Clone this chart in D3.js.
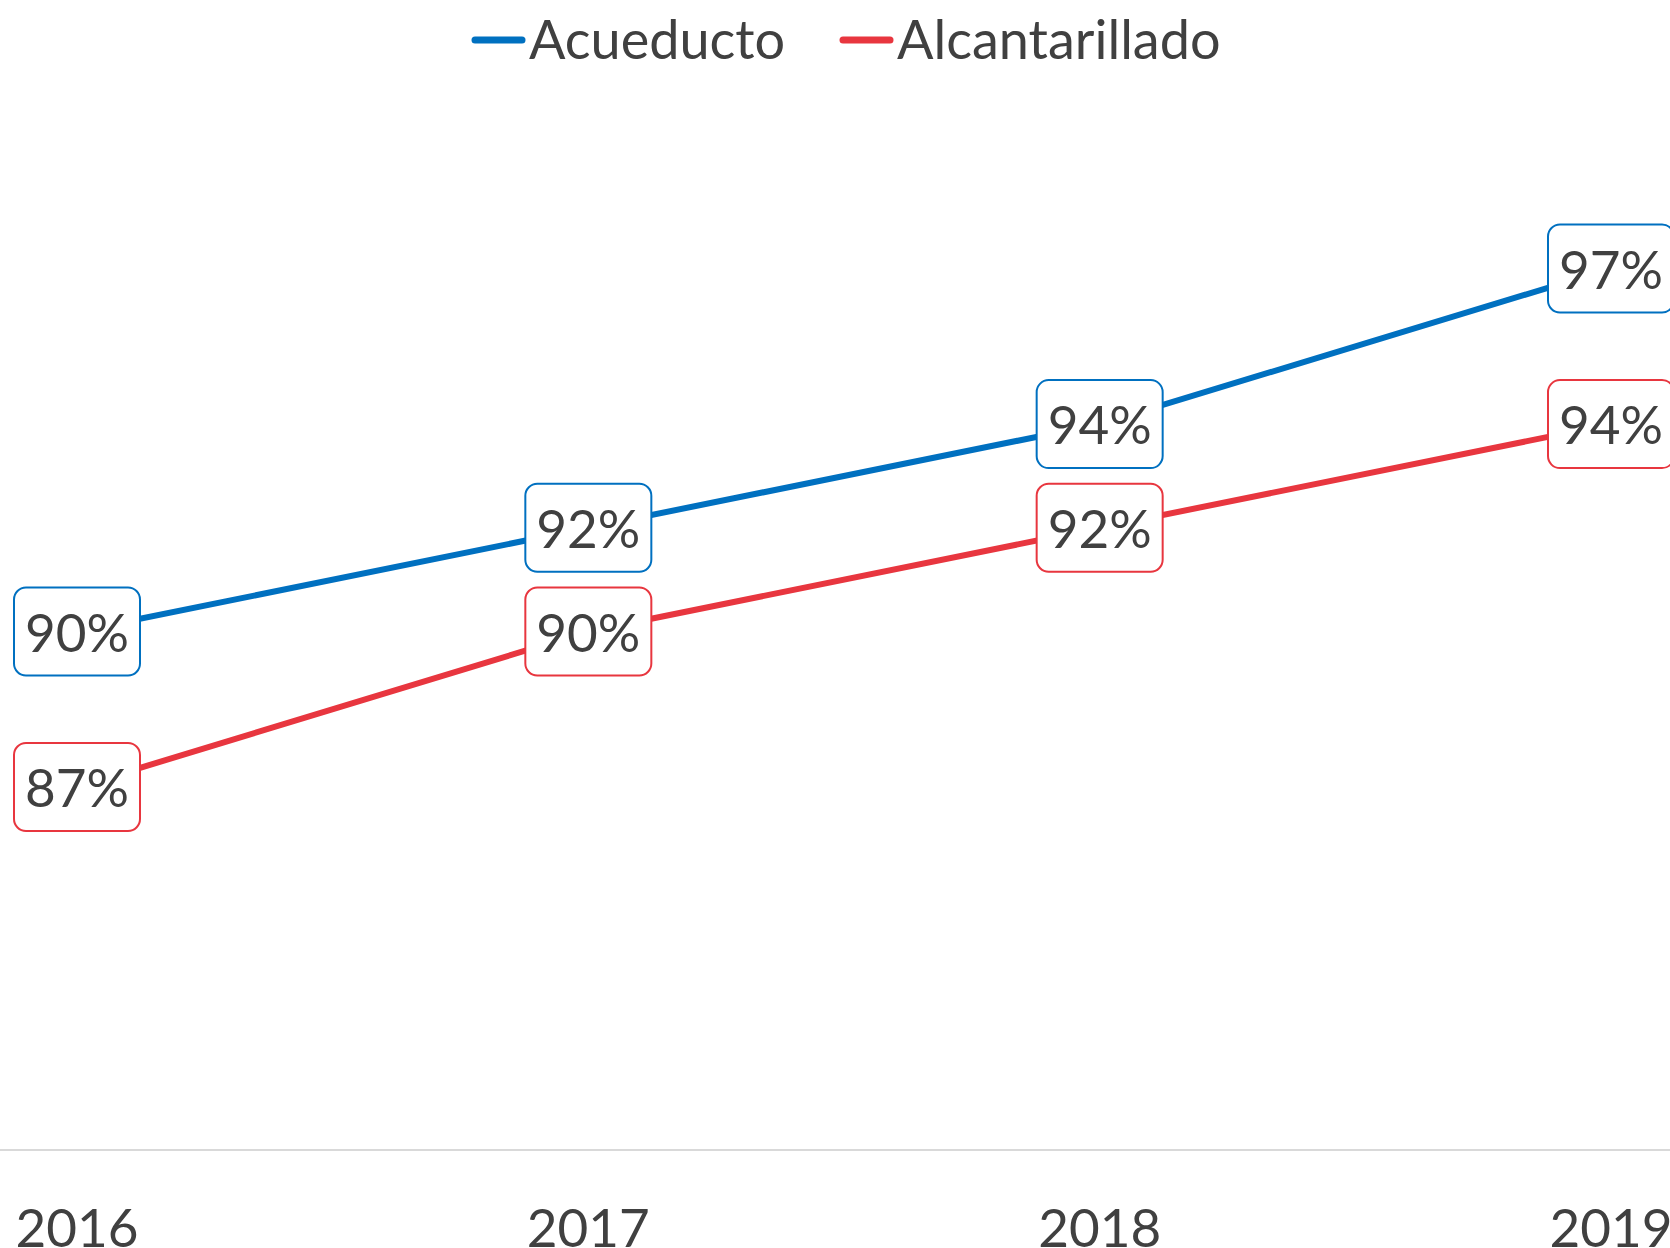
<!DOCTYPE html>
<html>
<head>
<meta charset="utf-8">
<script src="https://cdn.jsdelivr.net/npm/d3@7"></script>
<style>
  body { margin: 0; background: #fff; }
  svg { display: block; }
  text { font-family: Lato, "Open Sans", sans-serif; fill: #404040; }
</style>
</head>
<body>
<div id="chart"></div>
<script>
var years = ["2016", "2017", "2018", "2019"];
var acueducto = [90, 92, 94, 97];
var alcantarillado = [87, 90, 92, 94];
var seriesNames = ["Acueducto", "Alcantarillado"];
var seriesColors = ["#0070C0", "#E8363F"];

var width = 1670, height = 1248;

var xScale = d3.scalePoint()
    .domain(years)
    .range([77, 1611]);

var yScale = d3.scaleLinear()
    .domain([80, 100])
    .range([1150, 113]);

var svg = d3.select("#chart").append("svg")
    .attr("width", width)
    .attr("height", height);

// category axis line
svg.append("line")
    .attr("x1", 0).attr("x2", width)
    .attr("y1", yScale(80)).attr("y2", yScale(80))
    .attr("stroke", "#D9D9D9")
    .attr("stroke-width", 2);

// category labels
svg.selectAll(".xlabel").data(years).enter().append("text")
    .attr("class", "xlabel")
    .attr("x", function(d) { return xScale(d); })
    .attr("y", 1247)
    .attr("text-anchor", "middle")
    .style("font-size", "53px")
    .text(function(d) { return d; });

var series = [
  {name: seriesNames[0], color: seriesColors[0], values: acueducto},
  {name: seriesNames[1], color: seriesColors[1], values: alcantarillado}
];

var line = d3.line()
    .x(function(d, i) { return xScale(years[i]); })
    .y(function(d) { return yScale(d); });

series.forEach(function(s) {
  svg.append("path")
      .datum(s.values)
      .attr("fill", "none")
      .attr("stroke", s.color)
      .attr("stroke-width", 6)
      .attr("d", line);
});

// data labels
var boxW = 126, boxH = 88;
series.forEach(function(s) {
  var g = svg.selectAll(null).data(s.values).enter().append("g")
      .attr("transform", function(d, i) {
        return "translate(" + xScale(years[i]) + "," + yScale(d) + ")";
      });
  g.append("rect")
      .attr("x", -boxW / 2).attr("y", -boxH / 2)
      .attr("width", boxW).attr("height", boxH)
      .attr("rx", 12).attr("ry", 12)
      .attr("fill", "#fff")
      .attr("stroke", s.color)
      .attr("stroke-width", 2);
  g.append("text")
      .attr("text-anchor", "middle")
      .attr("y", 20)
      .style("font-size", "53px")
      .text(function(d) { return d + "%"; });
});

// legend
var legendX = [472, 840];
series.forEach(function(s, i) {
  var lg = svg.append("g").attr("transform", "translate(" + legendX[i] + ",40)");
  lg.append("line")
      .attr("x1", 3).attr("x2", 50)
      .attr("y1", 0).attr("y2", 0)
      .attr("stroke", s.color)
      .attr("stroke-width", 7)
      .attr("stroke-linecap", "round");
  lg.append("text")
      .attr("x", 57)
      .attr("y", 19)
      .style("font-size", "54px")
      .text(s.name);
});
</script>
</body>
</html>
